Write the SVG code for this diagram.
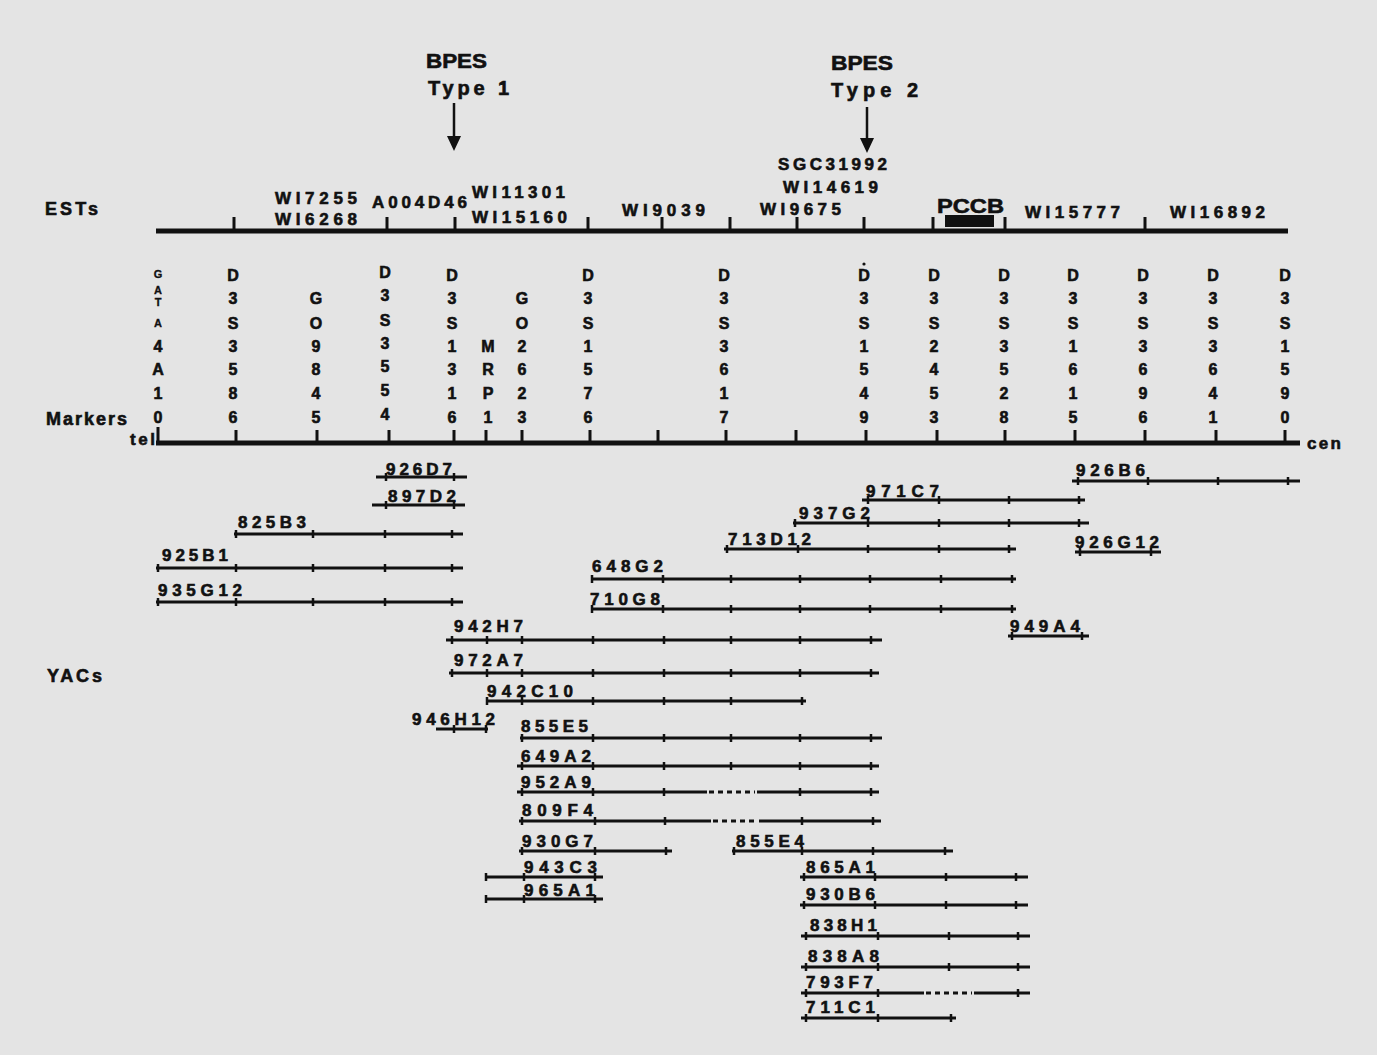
<svg xmlns="http://www.w3.org/2000/svg" width="1377" height="1055" viewBox="0 0 1377 1055">
<defs>
<style>
text{font-family:"Liberation Sans",Arial,Helvetica,sans-serif;font-weight:bold;fill:#111;stroke:#111;stroke-width:0.6}
.lbl{font-size:17px}
.big{font-size:18px}
.title{font-size:20px}
.m{font-size:16px;text-anchor:middle}
.s{font-size:11px;text-anchor:middle;stroke-width:0.3}
.axis{stroke:#111;stroke-width:5;fill:none}
.tk{stroke:#111;stroke-width:3;fill:none}
.yl{stroke:#111;stroke-width:3;fill:none}
.yt{stroke:#111;stroke-width:2.5;fill:none}
.dash{stroke:#111;stroke-width:3;stroke-dasharray:5 4;fill:none}
.arr{stroke:#111;stroke-width:2.5;fill:none}
</style>
</defs>
<rect width="1377" height="1055" fill="#e4e4e4"/>

<g id="bpes1">
<text class="title" x="426" y="68" textLength="61" lengthAdjust="spacingAndGlyphs">BPES</text>
<text class="title" x="428" y="95" textLength="81" lengthAdjust="spacing">Type  1</text>
</g>
<g id="bpes2">
<text class="title" x="831" y="70" textLength="62" lengthAdjust="spacingAndGlyphs">BPES</text>
<text class="title" x="831" y="97" textLength="87" lengthAdjust="spacing">Type  2</text>
</g>

<g id="connectors">
<path class="arr" d="M454,103 V137"/>
<polygon points="447,136 461,136 454,151" fill="#111"/>
<path class="arr" d="M867,107 V139"/>
<polygon points="860,138 874,138 867,153" fill="#111"/>
</g>

<g id="ests">
<text class="big" x="45" y="215" textLength="53" lengthAdjust="spacing">ESTs</text>
<path class="axis" d="M156,231 H1288"/>
<path class="tk" d="M234,217V231 M387,217V231 M455,217V231 M588,217V231 M662,217V231 M730,217V231 M797,217V231 M864,217V231 M933,217V231 M1005,217V231 M1145,217V231"/>
<rect x="945" y="215" width="49" height="12" fill="#111"/>
<text class="lbl" x="275" y="204" textLength="82" lengthAdjust="spacing">WI7255</text>
<text class="lbl" x="275" y="225" textLength="82" lengthAdjust="spacing">WI6268</text>
<text class="lbl" x="372" y="208" textLength="95" lengthAdjust="spacing">A004D46</text>
<text class="lbl" x="472" y="198" textLength="93" lengthAdjust="spacing">WI11301</text>
<text class="lbl" x="472" y="223" textLength="95" lengthAdjust="spacing">WI15160</text>
<text class="lbl" x="622" y="216" textLength="83" lengthAdjust="spacing">WI9039</text>
<text class="lbl" x="760" y="215" textLength="81" lengthAdjust="spacing">WI9675</text>
<text class="lbl" x="783" y="193" textLength="95" lengthAdjust="spacing">WI14619</text>
<text class="lbl" x="778" y="170" textLength="109" lengthAdjust="spacing">SGC31992</text>
<text style="font-size:21px" x="937" y="213" textLength="67" lengthAdjust="spacingAndGlyphs">PCCB</text>
<text class="lbl" x="1025" y="218" textLength="95" lengthAdjust="spacing">WI15777</text>
<text class="lbl" x="1170" y="218" textLength="95" lengthAdjust="spacing">WI16892</text>
</g>

<g id="markers">
<text class="big" x="46" y="425" textLength="81" lengthAdjust="spacing">Markers</text>
<text class="lbl" x="130" y="445" textLength="25" lengthAdjust="spacing">tel</text>
<text class="lbl" x="1307" y="449" textLength="34" lengthAdjust="spacing">cen</text>
<path class="axis" d="M156,443 H1300"/>
<path class="tk" d="M158,427V443 M236,430V443 M317,430V443 M389,430V443 M454,430V443 M486,430V443 M522,430V443 M590,430V443 M658,430V443 M726,430V443 M796,430V443 M866,430V443 M937,430V443 M1005,430V443 M1075,430V443 M1145,430V443 M1216,430V443 M1285,430V443"/>
<g id="m-gata4a10">
<text class="s"><tspan x="158" y="278">G</tspan><tspan x="158" y="294">A</tspan><tspan x="158" y="306">T</tspan><tspan x="158" y="327">A</tspan></text>
<text class="m"><tspan x="158" y="352">4</tspan><tspan x="158" y="375">A</tspan><tspan x="158" y="399">1</tspan><tspan x="158" y="423">0</tspan></text>
</g>
<text class="m" id="m-d3s3586"><tspan x="233" y="281">D</tspan><tspan x="233" y="304">3</tspan><tspan x="233" y="329">S</tspan><tspan x="233" y="352">3</tspan><tspan x="233" y="375">5</tspan><tspan x="233" y="399">8</tspan><tspan x="233" y="423">6</tspan></text>
<text class="m" id="m-go9845"><tspan x="316" y="304">G</tspan><tspan x="316" y="329">O</tspan><tspan x="316" y="352">9</tspan><tspan x="316" y="375">8</tspan><tspan x="316" y="399">4</tspan><tspan x="316" y="423">5</tspan></text>
<text class="m" id="m-d3s3554"><tspan x="385" y="278">D</tspan><tspan x="385" y="301">3</tspan><tspan x="385" y="326">S</tspan><tspan x="385" y="349">3</tspan><tspan x="385" y="372">5</tspan><tspan x="385" y="396">5</tspan><tspan x="385" y="420">4</tspan></text>
<text class="m" id="m-d3s1316"><tspan x="452" y="281">D</tspan><tspan x="452" y="304">3</tspan><tspan x="452" y="329">S</tspan><tspan x="452" y="352">1</tspan><tspan x="452" y="375">3</tspan><tspan x="452" y="399">1</tspan><tspan x="452" y="423">6</tspan></text>
<text class="m" id="m-mrp1"><tspan x="488" y="352">M</tspan><tspan x="488" y="375">R</tspan><tspan x="488" y="399">P</tspan><tspan x="488" y="423">1</tspan></text>
<text class="m" id="m-go2623"><tspan x="522" y="304">G</tspan><tspan x="522" y="329">O</tspan><tspan x="522" y="352">2</tspan><tspan x="522" y="375">6</tspan><tspan x="522" y="399">2</tspan><tspan x="522" y="423">3</tspan></text>
<text class="m" id="m-d3s1576"><tspan x="588" y="281">D</tspan><tspan x="588" y="304">3</tspan><tspan x="588" y="329">S</tspan><tspan x="588" y="352">1</tspan><tspan x="588" y="375">5</tspan><tspan x="588" y="399">7</tspan><tspan x="588" y="423">6</tspan></text>
<text class="m" id="m-d3s3617"><tspan x="724" y="281">D</tspan><tspan x="724" y="304">3</tspan><tspan x="724" y="329">S</tspan><tspan x="724" y="352">3</tspan><tspan x="724" y="375">6</tspan><tspan x="724" y="399">1</tspan><tspan x="724" y="423">7</tspan></text>
<circle cx="864" cy="264" r="1.6" fill="#111"/>
<text class="m" id="m-d3s1549"><tspan x="864" y="281">D</tspan><tspan x="864" y="304">3</tspan><tspan x="864" y="329">S</tspan><tspan x="864" y="352">1</tspan><tspan x="864" y="375">5</tspan><tspan x="864" y="399">4</tspan><tspan x="864" y="423">9</tspan></text>
<text class="m" id="m-d3s2453"><tspan x="934" y="281">D</tspan><tspan x="934" y="304">3</tspan><tspan x="934" y="329">S</tspan><tspan x="934" y="352">2</tspan><tspan x="934" y="375">4</tspan><tspan x="934" y="399">5</tspan><tspan x="934" y="423">3</tspan></text>
<text class="m" id="m-d3s3528"><tspan x="1004" y="281">D</tspan><tspan x="1004" y="304">3</tspan><tspan x="1004" y="329">S</tspan><tspan x="1004" y="352">3</tspan><tspan x="1004" y="375">5</tspan><tspan x="1004" y="399">2</tspan><tspan x="1004" y="423">8</tspan></text>
<text class="m" id="m-d3s1615"><tspan x="1073" y="281">D</tspan><tspan x="1073" y="304">3</tspan><tspan x="1073" y="329">S</tspan><tspan x="1073" y="352">1</tspan><tspan x="1073" y="375">6</tspan><tspan x="1073" y="399">1</tspan><tspan x="1073" y="423">5</tspan></text>
<text class="m" id="m-d3s3696"><tspan x="1143" y="281">D</tspan><tspan x="1143" y="304">3</tspan><tspan x="1143" y="329">S</tspan><tspan x="1143" y="352">3</tspan><tspan x="1143" y="375">6</tspan><tspan x="1143" y="399">9</tspan><tspan x="1143" y="423">6</tspan></text>
<text class="m" id="m-d3s3641"><tspan x="1213" y="281">D</tspan><tspan x="1213" y="304">3</tspan><tspan x="1213" y="329">S</tspan><tspan x="1213" y="352">3</tspan><tspan x="1213" y="375">6</tspan><tspan x="1213" y="399">4</tspan><tspan x="1213" y="423">1</tspan></text>
<text class="m" id="m-d3s1590"><tspan x="1285" y="281">D</tspan><tspan x="1285" y="304">3</tspan><tspan x="1285" y="329">S</tspan><tspan x="1285" y="352">1</tspan><tspan x="1285" y="375">5</tspan><tspan x="1285" y="399">9</tspan><tspan x="1285" y="423">0</tspan></text>
</g>

<g id="yacs">
<text class="big" x="47" y="682" textLength="55" lengthAdjust="spacing">YACs</text>

<g id="y926D7"><path class="yl" d="M376,477H467"/><path class="yt" d="M386,473v8M454,473v8"/><text class="lbl" x="386" y="475" textLength="66" lengthAdjust="spacing">926D7</text></g>
<g id="y897D2"><path class="yl" d="M372,505H465"/><path class="yt" d="M386,501v8M454,501v8"/><text class="lbl" x="388" y="502" textLength="68" lengthAdjust="spacing">897D2</text></g>
<g id="y825B3"><path class="yl" d="M234,534H463"/><path class="yt" d="M236,530v8M313,530v8M385,530v8M452,530v8"/><text class="lbl" x="238" y="528" textLength="68" lengthAdjust="spacing">825B3</text></g>
<g id="y925B1"><path class="yl" d="M156,568H463"/><path class="yt" d="M158,564v8M236,564v8M313,564v8M385,564v8M452,564v8"/><text class="lbl" x="162" y="561" textLength="66" lengthAdjust="spacing">925B1</text></g>
<g id="y935G12"><path class="yl" d="M156,602H463"/><path class="yt" d="M158,598v8M236,598v8M313,598v8M385,598v8M452,598v8"/><text class="lbl" x="158" y="596" textLength="84" lengthAdjust="spacing">935G12</text></g>
<g id="y648G2"><path class="yl" d="M592,579H1016"/><path class="yt" d="M592,575v8M663,575v8M731,575v8M800,575v8M870,575v8M941,575v8M1012,575v8"/><text class="lbl" x="592" y="572" textLength="71" lengthAdjust="spacing">648G2</text></g>
<g id="y710G8"><path class="yl" d="M592,609H1016"/><path class="yt" d="M592,605v8M663,605v8M731,605v8M800,605v8M870,605v8M941,605v8M1012,605v8"/><text class="lbl" x="590" y="605" textLength="70" lengthAdjust="spacing">710G8</text></g>
<g id="y926B6"><path class="yl" d="M1072,481H1300"/><path class="yt" d="M1078,477v8M1148,477v8M1218,477v8M1288,477v8"/><text class="lbl" x="1076" y="476" textLength="69" lengthAdjust="spacing">926B6</text></g>
<g id="y971C7"><path class="yl" d="M862,500H1085"/><path class="yt" d="M868,496v8M939,496v8M1009,496v8M1079,496v8"/><text class="lbl" x="866" y="497" textLength="73" lengthAdjust="spacing">971C7</text></g>
<g id="y937G2"><path class="yl" d="M793,523H1089"/><path class="yt" d="M795,519v8M868,519v8M939,519v8M1009,519v8M1079,519v8"/><text class="lbl" x="799" y="519" textLength="71" lengthAdjust="spacing">937G2</text></g>
<g id="y713D12"><path class="yl" d="M724,549H1016"/><path class="yt" d="M727,545v8M798,545v8M868,545v8M939,545v8M1009,545v8"/><text class="lbl" x="728" y="545" textLength="83" lengthAdjust="spacing">713D12</text></g>
<g id="y926G12"><path class="yl" d="M1075,552H1161"/><path class="yt" d="M1080,548v8M1151,548v8"/><text class="lbl" x="1075" y="548" textLength="84" lengthAdjust="spacing">926G12</text></g>
<g id="y949A4"><path class="yl" d="M1008,636H1089"/><path class="yt" d="M1012,632v8M1082,632v8"/><text class="lbl" x="1010" y="632" textLength="70" lengthAdjust="spacing">949A4</text></g>
<g id="y942H7"><path class="yl" d="M446,640H882"/><path class="yt" d="M452,636v8M487,636v8M522,636v8M593,636v8M664,636v8M731,636v8M800,636v8M871,636v8"/><text class="lbl" x="454" y="632" textLength="69" lengthAdjust="spacing">942H7</text></g>
<g id="y972A7"><path class="yl" d="M449,673H879"/><path class="yt" d="M452,669v8M487,669v8M522,669v8M593,669v8M664,669v8M731,669v8M800,669v8M871,669v8"/><text class="lbl" x="454" y="666" textLength="69" lengthAdjust="spacing">972A7</text></g>
<g id="y942C10"><path class="yl" d="M486,701H806"/><path class="yt" d="M487,697v8M522,697v8M593,697v8M664,697v8M731,697v8M802,697v8"/><text class="lbl" x="487" y="697" textLength="86" lengthAdjust="spacing">942C10</text></g>
<g id="y946H12"><path class="yl" d="M436,729H488"/><path class="yt" d="M454,725v8M486,725v8"/><text class="lbl" x="412" y="725" textLength="83" lengthAdjust="spacing">946H12</text></g>
<g id="y855E5"><path class="yl" d="M520,738H882"/><path class="yt" d="M522,734v8M593,734v8M664,734v8M731,734v8M800,734v8M871,734v8"/><text class="lbl" x="521" y="732" textLength="67" lengthAdjust="spacing">855E5</text></g>
<g id="y649A2"><path class="yl" d="M517,766H879"/><path class="yt" d="M522,762v8M593,762v8M664,762v8M731,762v8M800,762v8M871,762v8"/><text class="lbl" x="521" y="762" textLength="70" lengthAdjust="spacing">649A2</text></g>
<g id="y952A9"><path class="yl" d="M517,792H707M757,792H879"/><path class="dash" d="M709,792H755"/><path class="yt" d="M522,788v8M593,788v8M664,788v8M800,788v8M871,788v8"/><text class="lbl" x="521" y="788" textLength="70" lengthAdjust="spacing">952A9</text></g>
<g id="y809F4"><path class="yl" d="M519,821H711M759,821H881"/><path class="dash" d="M713,821H757"/><path class="yt" d="M522,817v8M595,817v8M665,817v8M802,817v8M873,817v8"/><text class="lbl" x="522" y="816" textLength="71" lengthAdjust="spacing">809F4</text></g>
<g id="y930G7"><path class="yl" d="M519,851H672"/><path class="yt" d="M522,847v8M595,847v8M666,847v8"/><text class="lbl" x="522" y="847" textLength="71" lengthAdjust="spacing">930G7</text></g>
<g id="y855E4"><path class="yl" d="M732,851H953"/><path class="yt" d="M734,847v8M802,847v8M873,847v8M945,847v8"/><text class="lbl" x="736" y="847" textLength="68" lengthAdjust="spacing">855E4</text></g>
<g id="y943C3"><path class="yl" d="M485,877H603"/><path class="yt" d="M486,873v8M524,873v8M595,873v8"/><text class="lbl" x="524" y="873" textLength="73" lengthAdjust="spacing">943C3</text></g>
<g id="y965A1"><path class="yl" d="M485,899H603"/><path class="yt" d="M486,895v8M524,895v8M595,895v8"/><text class="lbl" x="524" y="896" textLength="71" lengthAdjust="spacing">965A1</text></g>
<g id="y865A1"><path class="yl" d="M800,877H1028"/><path class="yt" d="M804,873v8M875,873v8M946,873v8M1016,873v8"/><text class="lbl" x="806" y="873" textLength="69" lengthAdjust="spacing">865A1</text></g>
<g id="y930B6"><path class="yl" d="M800,905H1028"/><path class="yt" d="M804,901v8M875,901v8M946,901v8M1016,901v8"/><text class="lbl" x="806" y="900" textLength="69" lengthAdjust="spacing">930B6</text></g>
<g id="y838H1"><path class="yl" d="M801,936H1030"/><path class="yt" d="M806,932v8M878,932v8M949,932v8M1018,932v8"/><text class="lbl" x="810" y="931" textLength="67" lengthAdjust="spacing">838H1</text></g>
<g id="y838A8"><path class="yl" d="M801,967H1030"/><path class="yt" d="M806,963v8M878,963v8M949,963v8M1018,963v8"/><text class="lbl" x="808" y="962" textLength="71" lengthAdjust="spacing">838A8</text></g>
<g id="y793F7"><path class="yl" d="M801,993H924M974,993H1030"/><path class="dash" d="M926,993H972"/><path class="yt" d="M806,989v8M878,989v8M1018,989v8"/><text class="lbl" x="806" y="988" textLength="67" lengthAdjust="spacing">793F7</text></g>
<g id="y711C1"><path class="yl" d="M801,1018H956"/><path class="yt" d="M806,1014v8M878,1014v8M951,1014v8"/><text class="lbl" x="806" y="1013" textLength="69" lengthAdjust="spacing">711C1</text></g>
</g>
</svg>
